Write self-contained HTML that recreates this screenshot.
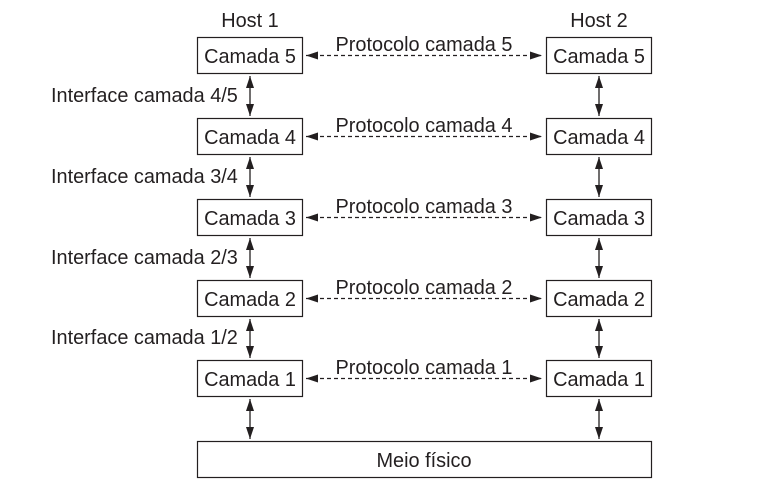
<!DOCTYPE html>
<html><head><style>body{margin:0;background:#fff}</style></head><body>
<svg width="781" height="499" xmlns="http://www.w3.org/2000/svg" font-family="Liberation Sans, sans-serif" font-size="19.9" fill="#231f20">
<defs>
<marker id="a" viewBox="0 0 12 8" refX="12" refY="4" markerWidth="12" markerHeight="8" orient="auto-start-reverse" markerUnits="userSpaceOnUse"><path d="M0,0L12,4L0,8z" fill="#231f20"/></marker>
</defs>
<text x="250" y="27" text-anchor="middle">Host 1</text>
<text x="599" y="27" text-anchor="middle">Host 2</text>
<g stroke="#231f20" stroke-width="1.2" fill="#fff">
<rect x="197.5" y="37.5" width="105" height="36"/><rect x="546.5" y="37.5" width="105" height="36"/>
<rect x="197.5" y="118.5" width="105" height="36"/><rect x="546.5" y="118.5" width="105" height="36"/>
<rect x="197.5" y="199.5" width="105" height="36"/><rect x="546.5" y="199.5" width="105" height="36"/>
<rect x="197.5" y="280.5" width="105" height="36"/><rect x="546.5" y="280.5" width="105" height="36"/>
<rect x="197.5" y="360.5" width="105" height="36"/><rect x="546.5" y="360.5" width="105" height="36"/>
<rect x="197.5" y="441.5" width="454" height="36"/>
</g>
<g stroke="#231f20" stroke-width="1.2" stroke-dasharray="4,3" marker-start="url(#a)" marker-end="url(#a)">
<line x1="306" y1="55.5" x2="542" y2="55.5"/>
<line x1="306" y1="136.5" x2="542" y2="136.5"/>
<line x1="306" y1="217.5" x2="542" y2="217.5"/>
<line x1="306" y1="298.5" x2="542" y2="298.5"/>
<line x1="306" y1="378.5" x2="542" y2="378.5"/>
</g>
<g stroke="#231f20" stroke-width="1.3" marker-start="url(#a)" marker-end="url(#a)">
<line x1="250" y1="76" x2="250" y2="116"/><line x1="599" y1="76" x2="599" y2="116"/>
<line x1="250" y1="157" x2="250" y2="197"/><line x1="599" y1="157" x2="599" y2="197"/>
<line x1="250" y1="238" x2="250" y2="278"/><line x1="599" y1="238" x2="599" y2="278"/>
<line x1="250" y1="319" x2="250" y2="358"/><line x1="599" y1="319" x2="599" y2="358"/>
<line x1="250" y1="399" x2="250" y2="439"/><line x1="599" y1="399" x2="599" y2="439"/>
</g>
<g text-anchor="middle">
<text x="250" y="63">Camada 5</text><text x="599" y="63">Camada 5</text>
<text x="250" y="144">Camada 4</text><text x="599" y="144">Camada 4</text>
<text x="250" y="225">Camada 3</text><text x="599" y="225">Camada 3</text>
<text x="250" y="306">Camada 2</text><text x="599" y="306">Camada 2</text>
<text x="250" y="386">Camada 1</text><text x="599" y="386">Camada 1</text>
<text x="424" y="467">Meio físico</text>
<text x="424" y="51">Protocolo camada 5</text>
<text x="424" y="132">Protocolo camada 4</text>
<text x="424" y="213">Protocolo camada 3</text>
<text x="424" y="294">Protocolo camada 2</text>
<text x="424" y="374">Protocolo camada 1</text>
</g>
<text x="51" y="102">Interface camada 4/5</text>
<text x="51" y="183">Interface camada 3/4</text>
<text x="51" y="264">Interface camada 2/3</text>
<text x="51" y="344">Interface camada 1/2</text>
</svg>
</body></html>
